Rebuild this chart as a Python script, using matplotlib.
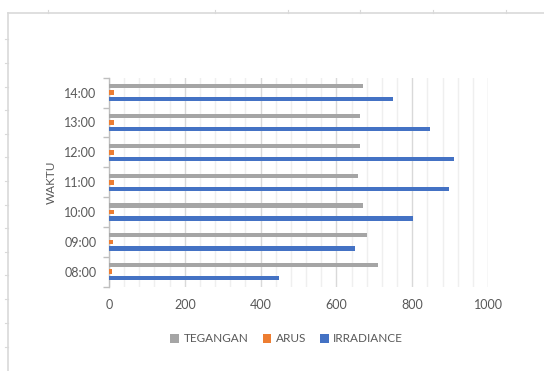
import numpy as np
import matplotlib
matplotlib.use("Agg")
import matplotlib.pyplot as plt
from matplotlib.lines import Line2D
from matplotlib.ticker import MultipleLocator

plt.rcParams['font.family'] = ['Lato', 'DejaVu Sans']

waktu = ['08:00', '09:00', '10:00', '11:00', '12:00', '13:00', '14:00']
tegangan = [709, 681, 671, 657, 661, 661, 671]
arus = [7, 11, 13, 14, 14, 14, 13]
irradiance = [448, 649, 803, 897, 909, 848, 749]

text_color = '#595959'
W, H = 544, 371

fig = plt.figure(figsize=(W / 100, H / 100), dpi=100)
fig.patch.set_facecolor('white')

# spreadsheet frame around the chart
frame_col = '#d9d9d9'
fig.add_artist(Line2D([8 / W, 1], [1 - 13 / H, 1 - 13 / H], color=frame_col, lw=1.2))
fig.add_artist(Line2D([8 / W, 8 / W], [0, 1 - 13 / H], color=frame_col, lw=1.2))
for yy in [39, 63, 87, 110, 134, 157, 181, 205, 228, 252, 275, 299, 323, 347]:
    fig.add_artist(Line2D([5 / W, 8 / W], [1 - yy / H, 1 - yy / H], color=frame_col, lw=0.8))
for xx in [48, 215, 288, 360, 433, 506]:
    fig.add_artist(Line2D([xx / W, xx / W], [1 - 10 / H, 1 - 13 / H], color=frame_col, lw=0.8))

left, right = 109 / W, 488 / W
top, bottom = 1 - 77.7 / H, 1 - 286.7 / H
ax = fig.add_axes([left, bottom, right - left, top - bottom])

y = np.arange(len(waktu))
h = 0.14
off = 0.218
ax.barh(y + off, tegangan, height=h, color='#A5A5A5', label='TEGANGAN', zorder=3)
ax.barh(y, arus, height=h + 0.02, color='#ED7D31', label='ARUS', zorder=3)
ax.barh(y - off, irradiance, height=h, color='#4472C4', label='IRRADIANCE', zorder=3)

ax.set_xlim(0, 1000)
ax.set_ylim(-0.5, len(waktu) - 0.5)
ax.xaxis.set_major_locator(MultipleLocator(200))
ax.xaxis.set_minor_locator(MultipleLocator(40))
ax.grid(axis='x', which='major', color='#d9d9d9', lw=1.0, zorder=0)
ax.grid(axis='x', which='minor', color='#efefef', lw=1.0, zorder=0)

ax.set_yticks(y)
ax.set_yticklabels(waktu)
ax.set_yticks(np.arange(-0.5, len(waktu)), minor=True)
ax.tick_params(axis='y', which='major', length=0, pad=9, labelsize=9, labelcolor=text_color)
ax.tick_params(axis='y', which='minor', length=4, color='#bfbfbf', width=1)
ax.tick_params(axis='x', which='both', length=0, pad=9, labelsize=9, labelcolor=text_color)

for s in ['top', 'right', 'bottom']:
    ax.spines[s].set_visible(False)
ax.spines['left'].set_color('#bfbfbf')
ax.spines['left'].set_linewidth(1.0)

ax.set_ylabel('WAKTU', color=text_color, fontsize=8.5, labelpad=5)

handles, labels = ax.get_legend_handles_labels()
fig.legend(handles, labels, loc='center', bbox_to_anchor=(0.527, 1 - 339 / H),
           ncol=3, frameon=False, fontsize=8.5, labelcolor=text_color,
           handlelength=0.75, handleheight=0.75, handletextpad=0.35, columnspacing=1.2)

fig.savefig('out.png', dpi=100, facecolor='white')
